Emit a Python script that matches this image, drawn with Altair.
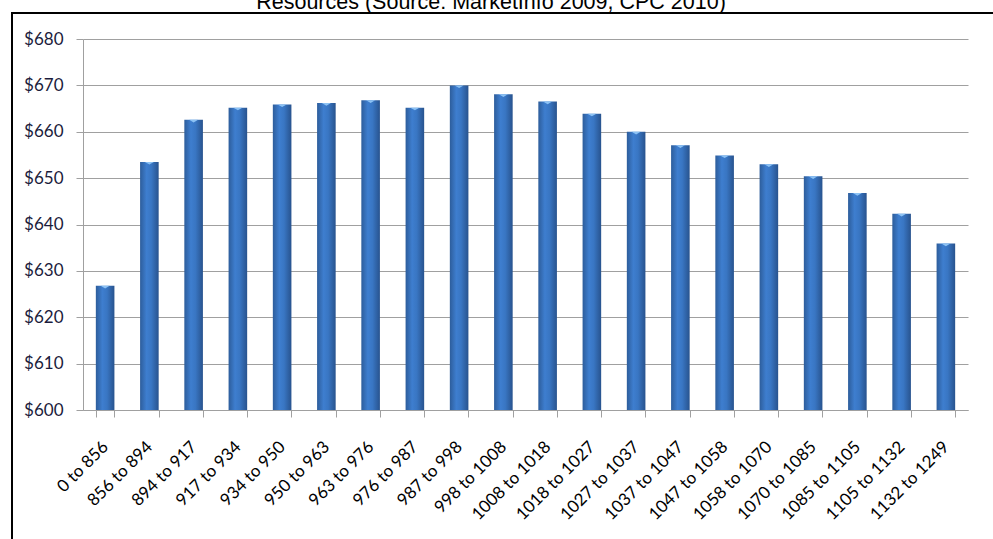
import altair as alt
import pandas as pd

categories = ["0 to 856", "856 to 894", "894 to 917", "917 to 934", "934 to 950",
              "950 to 963", "963 to 976", "976 to 987", "987 to 998", "998 to 1008",
              "1008 to 1018", "1018 to 1027", "1027 to 1037", "1037 to 1047",
              "1047 to 1058", "1058 to 1070", "1070 to 1085", "1085 to 1105",
              "1105 to 1132", "1132 to 1249"]
values = [626.8, 653.5, 662.6, 665.2, 665.9, 666.2, 666.8, 665.2, 670.0, 668.1,
          666.5, 663.9, 660.0, 657.1, 654.9, 653.0, 650.4, 646.8, 642.3, 635.9]
y_ticks = [600, 610, 620, 630, 640, 650, 660, 670, 680]
title_text = "Resources (Source: MarketInfo 2009, CPC 2010)"

df = pd.DataFrame({"cat": categories, "val": values})

gradient = alt.Gradient(
    gradient="linear", x1=0, x2=1, y1=0, y2=0,
    stops=[
        alt.GradientStop(color="#2d5d9b", offset=0),
        alt.GradientStop(color="#3e7ecf", offset=0.35),
        alt.GradientStop(color="#3976c3", offset=0.6),
        alt.GradientStop(color="#28538e", offset=1),
    ],
)

x_enc = alt.X("cat:N", sort=categories,
              scale=alt.Scale(paddingInner=0.58, paddingOuter=0.29),
              axis=alt.Axis(title=None, labelAngle=-45, labelAlign="right",
                            labelBaseline="middle", labelFont="Lato", labelFontSize=17,
                            labelColor="#000000", labelPadding=27,
                            tickBand="extent", tickSize=7, tickColor="#a0a0a0",
                            domainColor="#a0a0a0", grid=False))
y_enc = alt.Y("val:Q", scale=alt.Scale(domain=[600, 680], nice=False, zero=False),
              axis=alt.Axis(title=None, values=y_ticks, labelExpr="'$' + datum.value",
                            labelFont="Lato", labelFontSize=17, labelColor="#1c1c3c",
                            labelPadding=13, tickSize=7, tickColor="#a0a0a0",
                            domainColor="#a0a0a0", gridColor="#a0a0a0", gridWidth=1,
                            gridOpacity=1))

bars = alt.Chart(df).mark_bar(color=gradient, clip=True).encode(x=x_enc, y=y_enc)

bevel = alt.Chart(df).mark_point(
    shape="M-0.5,0 L0.5,0 L0,0.3 Z", filled=True, fill="#8cc2f4",
    opacity=1, size=324, strokeWidth=0
).encode(x=alt.X("cat:N", sort=categories), y="val:Q")

frame_df = pd.DataFrame({"k": [0]})
frame = alt.Chart(frame_df).mark_rect(fill=None, stroke="#000000", strokeWidth=2).encode(
    x=alt.value(-71), x2=alt.value(1000), y=alt.value(-26), y2=alt.value(600)
)

title_df = pd.DataFrame({"t": [title_text]})
title = alt.Chart(title_df).mark_text(
    font="Liberation Sans", fontSize=21.5, align="center", baseline="alphabetic",
    color="#000000"
).encode(text="t:N", x=alt.value(408), y=alt.value(-30))

chart = alt.layer(bars, bevel, frame, title).properties(
    width=885, height=371,
    autosize=alt.AutoSizeParams(type="none"),
    padding={"left": 83, "top": 39, "right": 25, "bottom": 129},
).configure_view(stroke=None)

chart.save("out.html", embed_options={"renderer": "svg", "actions": False})
